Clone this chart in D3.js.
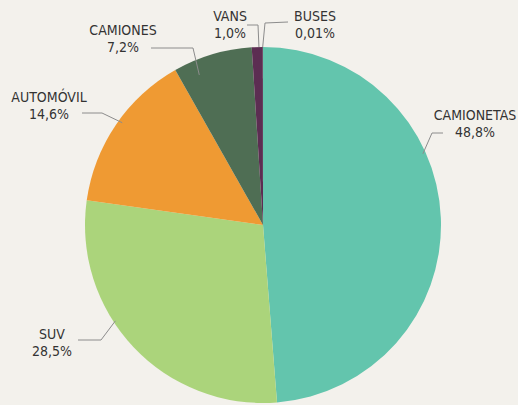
<!DOCTYPE html>
<html>
<head>
<meta charset="utf-8">
<script src="https://cdn.jsdelivr.net/npm/d3@7/dist/d3.min.js"></script>
<style>
  html, body { margin: 0; padding: 0; background: #f3f1ec; }
  svg { display: block; }
  text { font-family: "Liberation Sans Narrow", "DejaVu Sans Condensed", "Roboto", sans-serif; font-stretch: condensed; fill: #333333; }
</style>
</head>
<body>
<script>
// Vehicle mix by type (percent)
const categories = ["CAMIONETAS", "SUV", "AUTOMÓVIL", "CAMIONES", "VANS", "BUSES"];
const values = [48.8, 28.5, 14.6, 7.2, 1.0, 0.01];
const valueLabels = ["48,8%", "28,5%", "14,6%", "7,2%", "1,0%", "0,01%"];
const colors = ["#63c5ad", "#abd47b", "#ef9a33", "#4f6e54", "#5c2d52", "#8f8f8f"];

// Label placement: text centre, elbow of the leader, and the point on the pie (angle in degrees, radius)
const labelLayout = {
  "CAMIONETAS": { tx: 475, ty: 115, elbow: [[443, 133], [432, 133]], ang: 66, r: 175 },
  "SUV":        { tx: 52,  ty: 334, elbow: [[78, 340], [101, 340]], ang: 237, r: 176 },
  "AUTOMÓVIL":  { tx: 49,  ty: 97,  elbow: [[82, 113], [102, 113]], ang: 306, r: 174 },
  "CAMIONES":   { tx: 123, ty: 30,  elbow: [[151, 48], [193, 48]], ang: 337, r: 163 },
  "VANS":       { tx: 230, ty: 16,  elbow: [[247, 25], [258, 25]], ang: 358.7, r: 178 },
  "BUSES":      { tx: 315, ty: 16,  elbow: [[288, 22], [265, 23]], ang: 359.9, r: 178 }
};

const W = 518, H = 405;
const cx = 263, cy = 225, R = 178;

const svg = d3.select("body").append("svg").attr("width", W).attr("height", H);

const data = categories.map((c, i) => ({ name: c, value: values[i], label: valueLabels[i], color: colors[i] }));

const pie = d3.pie().value(d => d.value).sort(null);
const arc = d3.arc().innerRadius(0).outerRadius(R);

const g = svg.append("g").attr("transform", `translate(${cx},${cy})`);
g.selectAll("path")
  .data(pie(data))
  .join("path")
  .attr("d", arc)
  .attr("fill", d => d.data.color);

// Leader lines
const line = d3.line();
data.forEach(d => {
  const L = labelLayout[d.name];
  const a = L.ang * Math.PI / 180;
  const end = [cx + L.r * Math.sin(a), cy - L.r * Math.cos(a)];
  svg.append("path")
    .attr("d", line([L.elbow[0], L.elbow[1], end]))
    .attr("fill", "none")
    .attr("stroke", "#8c8c8c")
    .attr("stroke-width", 1);
});

// Labels
data.forEach(d => {
  const L = labelLayout[d.name];
  const t = svg.append("text")
    .attr("x", L.tx).attr("y", L.ty)
    .attr("text-anchor", "middle")
    .attr("font-size", 14);
  t.append("tspan").attr("x", L.tx).attr("dy", "0.35em").text(d.name);
  t.append("tspan").attr("x", L.tx).attr("dy", 17).text(d.label);
});
</script>
</body>
</html>
